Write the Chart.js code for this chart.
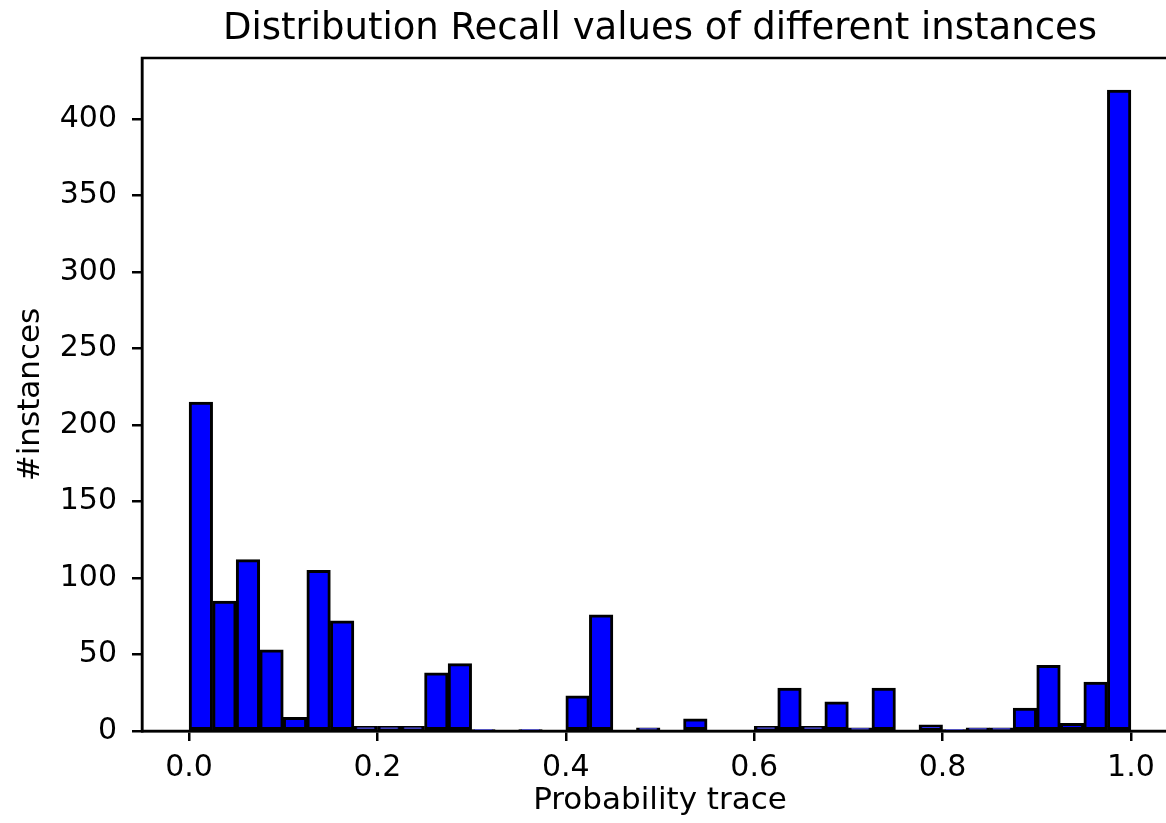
<!DOCTYPE html>
<html>
<head>
<meta charset="utf-8">
<title>Distribution Recall values</title>
<script src="https://cdn.jsdelivr.net/npm/chart.js@4.4.1/dist/chart.umd.min.js"></script>
<style>
  html, body { margin: 0; padding: 0; background: #fff; overflow: hidden; }
  .wrap { position: relative; width: 1200px; height: 823px; }
</style>
</head>
<body>
<div class="wrap"><canvas id="hist"></canvas></div>
<script>
// histogram: 40 bins of width 0.025 over [0, 1]
const BIN_START = 0.0;
const BIN_WIDTH = 0.025;
const counts = [
  215, 85, 112, 53, 9, 105, 72, 3, 3, 3,
  38, 44, 1, 0, 1, 0, 23, 76, 0, 2,
  0, 8, 0, 0, 3, 28, 3, 19, 2, 28,
  0, 4, 1, 2, 2, 15, 43, 5, 32, 419
];
const xTicks = [0.0, 0.2, 0.4, 0.6, 0.8, 1.0];
const yTicks = [0, 50, 100, 150, 200, 250, 300, 350, 400];

const FONT = "'DejaVu Sans', 'Liberation Sans', sans-serif";
const points = counts.map((c, i) => ({ x: BIN_START + (i + 0.5) * BIN_WIDTH, y: c }));

// matplotlib-style box round the plot area
const frame = {
  id: 'frame',
  afterDraw(chart) {
    const a = chart.chartArea, ctx = chart.ctx;
    ctx.save();
    ctx.strokeStyle = '#000';
    ctx.lineWidth = 2.5;
    ctx.strokeRect(a.left, a.top, a.right - a.left, a.bottom - a.top);
    ctx.restore();
  }
};

new Chart(document.getElementById('hist').getContext('2d'), {
  type: 'bar',
  data: {
    datasets: [{
      data: points,
      backgroundColor: '#0000ff',
      borderColor: '#000',
      borderWidth: 3,
      borderSkipped: false,
      barPercentage: 1,
      categoryPercentage: 1
    }]
  },
  options: {
    responsive: true,
    maintainAspectRatio: false,
    animation: false,
    layout: { padding: { left: 0, right: 22, top: 0, bottom: 0 } },
    plugins: {
      legend: { display: false },
      tooltip: { enabled: false },
      title: {
        display: true,
        fullSize: false,
        text: 'Distribution Recall values of different instances',
        color: '#000',
        font: { family: FONT, size: 37, weight: 'normal' },
        padding: { top: 7, bottom: 6.6 }
      }
    },
    scales: {
      x: {
        type: 'linear',
        min: -0.05,
        max: 1.05,
        offset: false,
        afterBuildTicks: s => { s.ticks = xTicks.map(v => ({ value: v })); },
        afterFit: s => { s.height = 92; },
        ticks: { color: '#000', font: { family: FONT, size: 30 }, padding: 9, callback: v => v.toFixed(1) },
        grid: { offset: false, drawOnChartArea: false, drawTicks: true, tickLength: 10, color: '#000', lineWidth: 2.5 },
        border: { display: true, color: '#000', width: 2.5 },
        title: {
          display: true, text: 'Probability trace', color: '#000',
          font: { family: FONT, size: 31 }, padding: { top: 3, bottom: 3 }
        }
      },
      y: {
        min: 0,
        max: 440,
        afterBuildTicks: s => { s.ticks = yTicks.map(v => ({ value: v })); },
        afterFit: s => { s.width = 142; },
        ticks: { color: '#000', font: { family: FONT, size: 30 }, padding: 15 },
        grid: { drawOnChartArea: false, drawTicks: true, tickLength: 10, color: '#000', lineWidth: 2.5 },
        border: { display: true, color: '#000', width: 2.5 },
        title: {
          display: true, text: '#instances', color: '#000',
          font: { family: FONT, size: 31 }, padding: { top: 12, bottom: 0 }
        }
      }
    }
  },
  plugins: [frame]
});
</script>
</body>
</html>
